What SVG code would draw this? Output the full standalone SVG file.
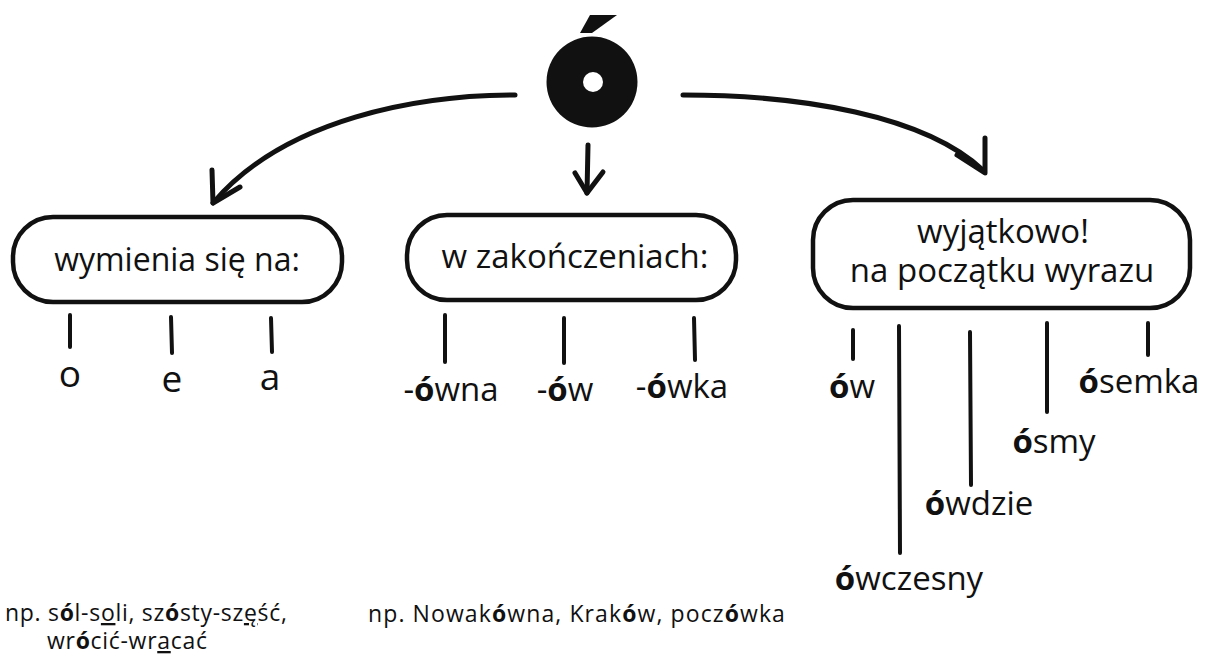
<svg xmlns="http://www.w3.org/2000/svg" width="1210" height="670" viewBox="0 0 1210 670">
<style>
.box{fill:#fff;stroke:#111;stroke-width:4.5}
.t{font-family:"Open Sans","Noto Sans",sans-serif;fill:#111}
.bt{font-size:33px;text-anchor:middle}
.lb{font-size:33px;text-anchor:middle}
.lt{font-size:37px;text-anchor:middle}
.ex{font-size:23px;letter-spacing:0.7px}
.b{font-weight:bold}
.tick{stroke:#111;stroke-width:4;stroke-linecap:round;fill:none}
.arr{stroke:#111;stroke-width:5;stroke-linecap:round;stroke-linejoin:round;fill:none}
</style>
<rect width="1210" height="670" fill="#fff"/>
<g id="root">
<circle cx="592" cy="82" r="45.5" fill="#111"/>
<circle cx="593" cy="82" r="10" fill="#fff"/>
<polygon points="590,15 617,15 592,33 580,33" fill="#111"/>
</g>
<g id="connectors">
<path class="arr" d="M515,95 C420,95 285,118 213,203"/>
<path class="arr" d="M212,170 L213,203 L240,187"/>
<path class="arr" d="M588,145 L587,193"/>
<path class="arr" d="M575,173 L587,193 L603,172"/>
<path class="arr" d="M683,95 C800,95 925,115 984,171"/>
<path class="arr" d="M985,138 L985,173 L957,155"/>
<line class="tick" x1="70" y1="315" x2="70" y2="347"/>
<line class="tick" x1="171" y1="317" x2="172" y2="353"/>
<line class="tick" x1="271" y1="318" x2="272" y2="352"/>
<line class="tick" x1="445" y1="315" x2="445" y2="362"/>
<line class="tick" x1="564" y1="318" x2="564" y2="363"/>
<line class="tick" x1="694" y1="318" x2="695" y2="360"/>
<line class="tick" x1="853" y1="330" x2="853" y2="359"/>
<line class="tick" x1="899" y1="326" x2="900" y2="553"/>
<line class="tick" x1="970" y1="332" x2="971" y2="485"/>
<line class="tick" x1="1047" y1="323" x2="1047" y2="412"/>
<line class="tick" x1="1148" y1="323" x2="1148" y2="355"/>
</g>
<g id="box1">
<rect class="box" x="13" y="217" width="329" height="85" rx="40"/>
<text class="t bt" x="177" y="271" style="font-size:32px">wymienia się na:</text>
</g>
<g id="box2">
<rect class="box" x="407" y="215" width="329" height="85" rx="40"/>
<text class="t bt" x="575" y="268">w zakończeniach:</text>
</g>
<g id="box3">
<rect class="box" x="813" y="200" width="377" height="108" rx="40"/>
<text class="t bt" x="1003" y="243">wyjątkowo!</text>
<text class="t bt" x="1002" y="282">na początku wyrazu</text>
</g>
<g id="labels1">
<text class="t lt" x="70" y="387">o</text>
<text class="t lt" x="172" y="392">e</text>
<text class="t lt" x="270" y="390">a</text>
</g>
<g id="labels2">
<text class="t lb" x="451" y="401">-<tspan class="b">ó</tspan>wna</text>
<text class="t lb" x="565" y="401">-<tspan class="b">ó</tspan>w</text>
<text class="t lb" x="682" y="398">-<tspan class="b">ó</tspan>wka</text>
</g>
<g id="labels3">
<text class="t lb" x="852" y="398"><tspan class="b">ó</tspan>w</text>
<text class="t lb" x="909" y="590"><tspan class="b">ó</tspan>wczesny</text>
<text class="t lb" x="979" y="515"><tspan class="b">ó</tspan>wdzie</text>
<text class="t lb" x="1054" y="453"><tspan class="b">ó</tspan>smy</text>
<text class="t lb" x="1139" y="393"><tspan class="b">ó</tspan>semka</text>
</g>
<g id="examples">
<text class="t ex" x="5" y="621">np. s<tspan class="b">ó</tspan>l-s<tspan text-decoration="underline">o</tspan>li, sz<tspan class="b">ó</tspan>sty-sz<tspan text-decoration="underline">ę</tspan>ść,</text>
<text class="t ex" x="47" y="649">wr<tspan class="b">ó</tspan>cić-wr<tspan text-decoration="underline">a</tspan>cać</text>
<text class="t ex" x="368" y="622" style="letter-spacing:1.1px">np. Nowak<tspan class="b">ó</tspan>wna, Krak<tspan class="b">ó</tspan>w, pocz<tspan class="b">ó</tspan>wka</text>
</g>
</svg>
